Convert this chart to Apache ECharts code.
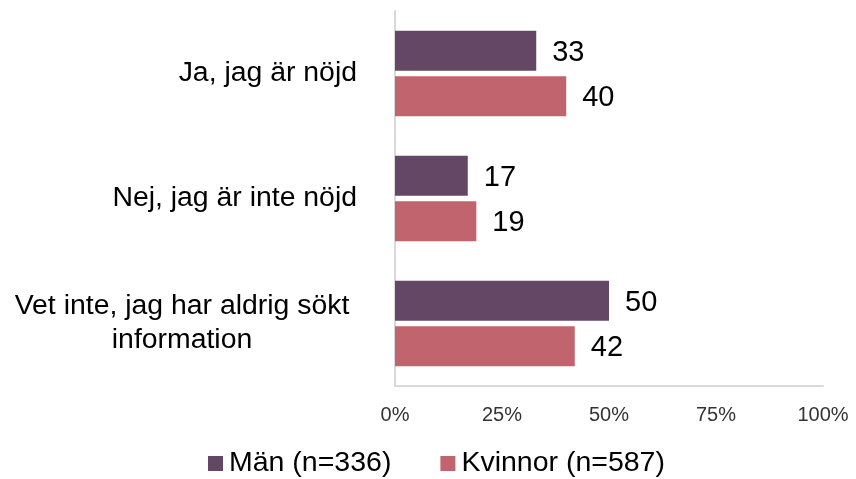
<!DOCTYPE html>
<html>
<head>
<meta charset="utf-8">
<script src="https://cdn.jsdelivr.net/npm/echarts@6/dist/echarts.min.js"></script>
<style>
  html, body { margin: 0; padding: 0; background: #fff; }
  #chart { width: 856px; height: 479px; }
</style>
</head>
<body>
<div id="chart"></div>
<script>
var categories = ['Ja, jag är nöjd', 'Nej, jag är inte nöjd', 'Vet inte, jag har aldrig sökt\ninformation'];
var seriesNames = ['Män (n=336)', 'Kvinnor (n=587)'];
var manValues = [33, 17, 50];
var kvinnorValues = [40, 19, 42];
var xTicks = [0, 25, 50, 75, 100];

var chart = echarts.init(document.getElementById('chart'));
var font = 'Liberation Sans, Arial, sans-serif';

var option = {
  animation: false,
  textStyle: { fontFamily: font },
  grid: { left: 395, right: 33, top: 11, bottom: 93 },
  legend: {
    data: seriesNames,
    left: 208,
    top: 449,
    padding: 0,
    icon: 'rect',
    itemWidth: 15,
    itemHeight: 15,
    itemGap: 49,
    textStyle: { fontFamily: font, fontSize: 28.5, color: '#000', padding: [0, 0, 0, 1] }
  },
  xAxis: {
    type: 'value',
    min: xTicks[0],
    max: xTicks[xTicks.length - 1],
    interval: xTicks[1] - xTicks[0],
    splitLine: { show: false },
    axisTick: { show: false },
    axisLine: { show: true, lineStyle: { color: '#d9d9d9', width: 2 } },
    axisLabel: {
      formatter: '{value}%',
      margin: 19,
      fontSize: 20,
      color: '#333',
      fontFamily: font
    }
  },
  yAxis: {
    type: 'category',
    inverse: true,
    data: categories,
    axisTick: { show: false },
    axisLine: { show: true, lineStyle: { color: '#d9d9d9', width: 2 } },
    axisLabel: {
      margin: 38,
      fontSize: 28.4,
      lineHeight: 34,
      color: '#000',
      fontFamily: font,
      formatter: function (v) {
        var lines = v.split('\n');
        if (lines.length > 1) {
          return lines.map(function (l) { return '{c|' + l + '}'; }).join('\n');
        }
        return v;
      },
      rich: {
        c: { width: 350, align: 'center', fontSize: 28.4, lineHeight: 34, color: '#000', fontFamily: font }
      }
    }
  },
  series: [
    {
      name: seriesNames[0],
      type: 'bar',
      data: manValues,
      barWidth: 40,
      barGap: '14%',
      itemStyle: { color: '#634764' },
      label: { show: true, position: 'right', distance: 16, fontSize: 29, color: '#000', fontFamily: font, offset: [0, 2] }
    },
    {
      name: seriesNames[1],
      type: 'bar',
      data: kvinnorValues,
      barWidth: 40,
      itemStyle: { color: '#c1646d' },
      label: { show: true, position: 'right', distance: 16, fontSize: 29, color: '#000', fontFamily: font, offset: [0, 2] }
    }
  ]
};
chart.setOption(option);
</script>
</body>
</html>
